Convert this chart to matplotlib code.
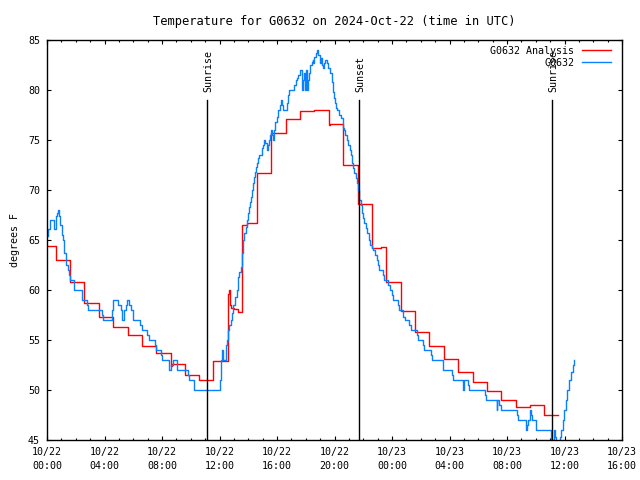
import matplotlib
matplotlib.use('Agg')
import matplotlib.pyplot as plt
from matplotlib import transforms

plt.rcParams['font.family'] = 'DejaVu Sans Mono'
plt.rcParams['font.size'] = 7.2

# hours since 2024-10-22 00:00 UTC
red_hours = [0, 0.6, 1.6, 2.6, 3.6, 4.6, 5.6, 6.6, 7.6, 8.6, 8.68, 9.6, 10.6, 11.58,
             12.58, 12.64, 12.7, 12.8, 13.0, 13.3, 13.58, 13.9, 14.58, 15.58, 16.6,
             17.6, 18.6, 19.6, 19.7, 20.6, 21.6, 22.63, 23.2, 23.58, 24.6, 25.6, 26.6,
             27.6, 28.6, 29.6, 30.6, 31.6, 32.6, 33.6, 34.6, 35.57]
red_temp = [64.4, 63.0, 60.8, 58.7, 57.3, 56.3, 55.5, 54.4, 53.7, 52.4, 52.6, 51.5, 51.0, 52.9,
            59.6, 60.0, 58.5, 58.2, 58.1, 57.8, 66.5, 66.7, 71.7, 75.7, 77.1,
            77.9, 78.0, 76.5, 76.6, 72.5, 68.6, 64.2, 64.3, 60.8, 57.9, 55.8, 54.4,
            53.1, 51.8, 50.8, 49.9, 49.0, 48.3, 48.5, 47.5, 47.5]

blue_hours = [0.00, 0.05, 0.09, 0.21, 0.51, 0.60, 0.70, 0.77, 0.82, 0.93, 1.05, 1.13, 1.20,
              1.32, 1.44, 1.53, 1.60, 1.88, 2.41, 2.80, 2.87, 3.81, 3.87, 4.50, 4.61, 4.96,
              5.03, 5.13, 5.24, 5.33, 5.50, 5.59, 5.70, 5.82, 5.96, 6.47, 6.59, 6.94, 7.10,
              7.51, 7.58, 7.91, 7.98, 8.51, 8.63, 8.74, 9.02, 9.79, 9.86, 10.25, 12.03,
              12.13, 12.15, 12.21, 12.26, 12.45, 12.50, 12.61, 12.68, 12.78, 12.85, 12.96,
              13.10, 13.19, 13.26, 13.31, 13.38, 13.47, 13.54, 13.59, 13.61, 13.66, 13.73,
              13.82, 13.89, 13.96, 14.05, 14.12, 14.19, 14.28, 14.35, 14.40, 14.47, 14.54,
              14.63, 14.70, 14.77, 14.93, 15.05, 15.12, 15.19, 15.28, 15.40, 15.47, 15.51,
              15.58, 15.65, 15.72, 15.79, 15.88, 15.98, 16.05, 16.21, 16.28, 16.37, 16.44,
              16.72, 16.79, 16.86, 17.20, 17.30, 17.41, 17.48, 17.60, 17.72, 17.79, 17.88,
              17.95, 18.02, 18.11, 18.18, 18.25, 18.30, 18.41, 18.48, 18.53, 18.60, 18.69,
              18.81, 18.88, 18.99, 19.06, 19.13, 19.22, 19.29, 19.36, 19.46, 19.57, 19.69,
              19.80, 19.87, 19.97, 20.04, 20.11, 20.20, 20.34, 20.43, 20.57, 20.61, 20.66,
              20.73, 20.85, 20.96, 21.08, 21.15, 21.24, 21.31, 21.38, 21.47, 21.54, 21.61,
              21.68, 21.73, 21.82, 21.93, 22.00, 22.07, 22.17, 22.28, 22.38, 22.47, 22.59,
              22.70, 22.82, 22.94, 23.05, 23.12, 23.35, 23.44, 23.74, 23.86, 23.98, 24.05,
              24.40, 24.49, 24.79, 24.90, 25.20, 25.32, 25.72, 25.83, 26.18, 26.25, 26.71,
              26.76, 27.53, 27.57, 28.17, 28.22, 28.96, 29.03, 29.27, 29.34, 30.49, 30.56,
              31.28, 31.32, 31.46, 31.56, 32.67, 32.74, 33.30, 33.37, 33.48, 33.60, 33.67,
              33.76, 34.02, 35.06, 35.27, 35.34, 35.44, 35.69, 35.76, 35.87, 35.97, 36.08,
              36.19, 36.33, 36.43, 36.57, 36.68]
blue_temp = [65.4, 65.7, 66.1, 67.0, 66.1, 67.4, 67.7, 68.0, 67.4, 66.5, 65.5, 65.0, 63.7,
             62.5, 62.0, 61.5, 61.0, 60.0, 59.0, 58.5, 58.0, 57.5, 57.0, 58.0, 59.0, 58.5,
             58.5, 58.0, 57.0, 58.0, 58.5, 59.0, 58.5, 58.0, 57.0, 56.5, 56.0, 55.5, 55.0,
             54.5, 54.0, 53.5, 53.0, 52.0, 52.5, 53.0, 52.0, 51.5, 51.0, 50.0, 51.0,
             53.0, 54.0, 53.5, 53.0, 54.5, 55.0, 56.0, 56.5, 57.0, 57.7, 58.5,
             59.3, 60.0, 60.7, 61.3, 61.8, 62.3, 63.0, 63.7, 64.5, 65.0, 65.7,
             66.3, 67.0, 67.7, 68.3, 68.8, 69.3, 70.0, 70.7, 71.3, 71.8, 72.3,
             72.7, 73.2, 73.5, 74.2, 74.5, 75.0, 74.7, 74.0, 74.5, 75.0, 75.5,
             76.0, 75.5, 75.0, 76.0, 76.8, 77.3, 78.0, 78.5, 79.0, 78.5, 78.0,
             78.7, 79.5, 80.0, 80.5, 81.0, 81.2, 81.5, 82.0, 80.0, 81.0, 81.7,
             80.0, 82.0, 80.0, 81.0, 81.7, 82.5, 82.8, 83.0, 82.7, 83.3, 83.7,
             84.0, 83.5, 82.7, 83.2, 82.5, 82.2, 82.7, 83.0, 82.7, 82.2, 81.7,
             80.8, 79.8, 79.2, 78.7, 78.2, 78.0, 77.5, 77.2, 76.7, 76.2, 76.0,
             75.5, 75.0, 74.5, 74.0, 73.5, 72.7, 72.2, 71.7, 71.2, 70.7, 70.0,
             69.5, 69.0, 68.5, 67.7, 67.2, 66.7, 66.2, 65.7, 65.0, 64.5, 64.2,
             64.0, 63.5, 63.0, 62.5, 62.0, 61.5, 61.0, 60.5, 60.0, 59.5, 59.0,
             58.5, 58.0, 57.3, 57.0, 56.5, 56.0, 55.5, 55.0, 54.5, 54.0, 53.5,
             53.0, 52.5, 52.0, 51.5, 51.0, 50.0, 51.0, 50.5, 50.0, 49.5, 49.0,
             48.0, 49.0, 48.5, 48.0, 47.5, 47.0, 46.0, 46.5, 47.0, 48.0, 47.5,
             47.0, 46.0, 45.0, 46.0, 45.3, 44.5, 45.3, 46.0, 47.0, 48.0, 49.0,
             50.0, 51.0, 51.8, 52.5, 53.0]

sun_hours = [11.15, 21.73, 35.15]
sun_labels = ['Sunrise', 'Sunset', 'Sunrise']

tick_hours = list(range(0, 41, 4))
tick_labels = ['10/22\n00:00', '10/22\n04:00', '10/22\n08:00', '10/22\n12:00',
               '10/22\n16:00', '10/22\n20:00', '10/23\n00:00', '10/23\n04:00',
               '10/23\n08:00', '10/23\n12:00', '10/23\n16:00']

fig = plt.figure(figsize=(6.4, 4.8), dpi=100)
ax = fig.add_axes([47 / 640, 40 / 480, 575 / 640, 400 / 480])

ax.plot(red_hours, red_temp, drawstyle='steps-post', color='#ff0000', lw=1.0,
        label='G0632 Analysis')
ax.plot(blue_hours, blue_temp, drawstyle='steps-post', color='#0a80ff', lw=1.0,
        label='G0632')

# sunrise / sunset markers
trans = transforms.blended_transform_factory(ax.transData, ax.transAxes)
for h, lab in zip(sun_hours, sun_labels):
    ax.plot([h, h], [0, 0.85], color='black', lw=1.0, transform=trans)
    ax.text(h + 0.05, 0.87, lab, rotation=90, ha='center', va='bottom', transform=trans)

ax.set_xlim(0, 40)
ax.set_ylim(45, 85)
ax.set_xticks(tick_hours)
ax.set_xticklabels(tick_labels, linespacing=1.5)
ax.set_xticks(range(0, 41), minor=True)
ax.set_yticks(range(45, 86, 5))
ax.tick_params(direction='in', top=True, right=True, length=3.2, width=0.8, pad=5)
ax.tick_params(which='minor', direction='in', top=True, length=1.6, width=0.8)
for s in ax.spines.values():
    s.set_linewidth(1.0)

ax.set_ylabel('degrees F', labelpad=6)
ax.set_title('Temperature for G0632 on 2024-Oct-22 (time in UTC)', pad=11)

ax.legend(loc='upper right', bbox_to_anchor=(0.98, 0.985), frameon=False,
          markerfirst=False, handlelength=2.9, handletextpad=0.7,
          labelspacing=0.2, borderaxespad=0, borderpad=0)

fig.savefig('out.png', dpi=100)
